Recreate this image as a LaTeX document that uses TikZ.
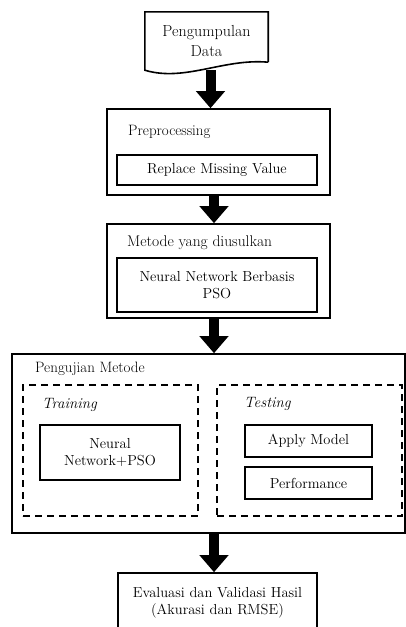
\documentclass[tikz,border=0pt]{standalone}
\usetikzlibrary{arrows.meta, positioning, calc}

\begin{document}
\begin{tikzpicture}[x=1pt, y=-1pt,
    font=\fontsize{14.5}{17}\selectfont,
    box/.style={draw, line width=1.6pt, align=center, inner sep=0pt},
    dashbox/.style={draw, line width=1.6pt, dash pattern=on 7pt off 5pt},
    lbl/.style={anchor=west, inner sep=0pt},
    bigarrow/.style={line width=10pt, -{Triangle[width=28pt, length=17pt]}}]
    \useasboundingbox (0,0) rectangle (406,627);

    % data source (document shape)
    \node[align=center, minimum width=123, minimum height=58, inner sep=0pt,
          font=\fontsize{16}{20}\selectfont] (data) at (206.5,41) {Pengumpulan\\Data};
    \draw[line width=1.6pt] ([yshift=8pt]data.south east) -- (data.north east) -- (data.north west) -- (data.south west)
        .. controls +(40,12) and +(-45,-4) .. ([yshift=8pt]data.south east);

    % preprocessing
    \node[box, minimum width=223, minimum height=86] (pre) at (218.5,152) {};
    \node[lbl, font=\fontsize{15}{18}\selectfont] (prel) at (128,132) {Preprocessing};
    \node[box, minimum width=200, minimum height=30] (rmv) at (217,170) {Replace Missing Value};

    % metode
    \node[box, minimum width=223, minimum height=94] (met) at (218.5,271) {};
    \node[lbl, font=\fontsize{15.5}{18}\selectfont] (metl) at (127,243) {Metode yang diusulkan};
    \node[box, minimum width=200, minimum height=54] (nnpso) at (217,285) {Neural Network Berbasis\\PSO};

    % pengujian
    \node[box, minimum width=393, minimum height=179] (uji) at (208.5,443.5) {};
    \node[lbl, font=\fontsize{15}{18}\selectfont] (ujil) at (35,369) {Pengujian Metode};
    \node[dashbox, minimum width=175, minimum height=131] (train) at (110.5,450.5) {};
    \node[lbl, font=\fontsize{15}{18}\selectfont\itshape] (trainl) at (42,405) {Training};
    \node[box, minimum width=140, minimum height=55] (nn) at (110,452.5) {Neural\\Network+PSO};
    \node[dashbox, minimum width=185, minimum height=131] (test) at (309.5,450.5) {};
    \node[lbl, font=\fontsize{15}{18}\selectfont\itshape] (testl) at (244,404) {Testing};
    \node[box, minimum width=127, minimum height=32] (apply) at (308.5,441) {Apply Model};
    \node[box, minimum width=127, minimum height=32] (perf) at (308.5,483) {Performance};

    % evaluasi
    \node[box, minimum width=199, minimum height=60] (eval) at (217.5,603) {Evaluasi dan Validasi Hasil\\(Akurasi dan RMSE)};

    % arrows
    \draw[bigarrow] ([xshift=4pt]data.south) -- ([xshift=4pt]data.south |- pre.north);
    \draw[bigarrow] ([xshift=-4.5pt]pre.south) -- ([xshift=-4.5pt]met.north);
    \draw[bigarrow] ([xshift=-4.5pt]met.south) -- ([xshift=-4.5pt]met.south |- uji.north);
    \draw[bigarrow] ([xshift=-3.5pt]eval.north |- uji.south) -- ([xshift=-3.5pt]eval.north);
\end{tikzpicture}
\end{document}
